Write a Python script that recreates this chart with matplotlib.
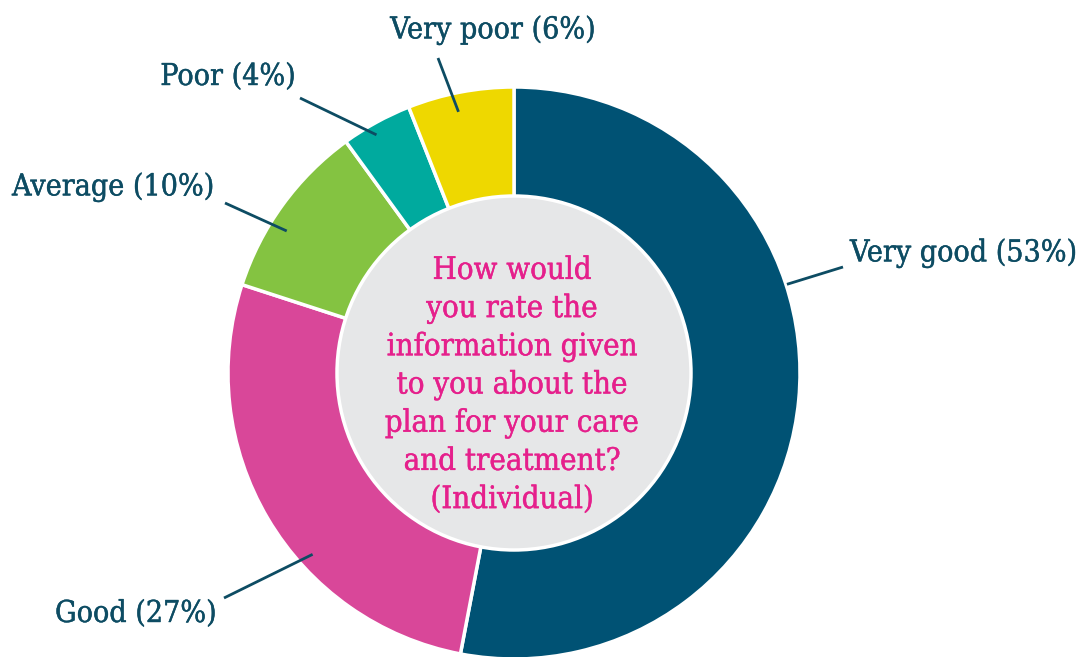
import matplotlib.pyplot as plt
import matplotlib.patheffects as pe
import numpy as np

labels = ["Very good", "Good", "Average", "Poor", "Very poor"]
values = [53, 27, 10, 4, 6]
colors = ["#005274", "#d94799", "#84c341", "#00aa9e", "#eed800"]

question = ("How would\nyou rate the\ninformation given\nto you about the\n"
            "plan for your care\nand treatment?\n(Individual)")

# layout in pixel space (y measured from top)
W, H = 1082, 657
cx, cy = 514, 373
R_out, R_in = 286, 177

# leader lines: angle of tip on ring, radius of tip, outer end, text anchor
tip_ang = [18, -138, 148, 120, 102]
tip_r = [287, 271, 268, 275, 267]
line_end = [(843, 267), (224, 598), (225, 203), (300, 98), (438, 58)]
text_pos = [(850, 253, "left"), (55, 614, "left"), (12, 187, "left"),
            (228, 77, "center"), (493, 30, "center")]

txt_col = "#0d4c63"
q_col = "#e5208c"
font = "DejaVu Serif"

fig = plt.figure(figsize=(W / 100, H / 100), dpi=100)
ax = fig.add_axes([0, 0, 1, 1])
ax.set_xlim(0, W)
ax.set_ylim(0, H)
ax.set_aspect("equal")
ax.axis("off")

ax.pie(values, colors=colors, startangle=90, counterclock=False,
       center=(cx, H - cy), radius=R_out,
       wedgeprops=dict(width=R_out - R_in + 5, edgecolor="white", linewidth=2.5))
ax.add_patch(plt.Circle((cx, H - cy), R_in, facecolor="#e6e7e8",
                        edgecolor="white", linewidth=2.5, zorder=5))
ax.set_xlim(0, W)
ax.set_ylim(0, H)

for i, lab in enumerate(labels):
    a = np.deg2rad(tip_ang[i])
    x0 = cx + tip_r[i] * np.cos(a)
    y0 = (H - cy) + tip_r[i] * np.sin(a)
    x1, y1 = line_end[i]
    ax.plot([x0, x1], [y0, H - y1], color=txt_col, lw=2, solid_capstyle="butt", zorder=6)
    tx, ty, ha = text_pos[i]
    ax.text(tx, H - ty, f"{lab} ({values[i]}%)", ha=ha, va="center",
            fontsize=21.7, color=txt_col, family=font, stretch="condensed", zorder=7,
            path_effects=[pe.withStroke(linewidth=0.3, foreground=txt_col)])

ax.text(cx - 2, H - 385, question, ha="center", va="center", fontsize=22.3,
        color=q_col, family=font, stretch="condensed", linespacing=1.3, zorder=7,
        path_effects=[pe.withStroke(linewidth=0.3, foreground=q_col)])

fig.savefig("out.png", dpi=100)
